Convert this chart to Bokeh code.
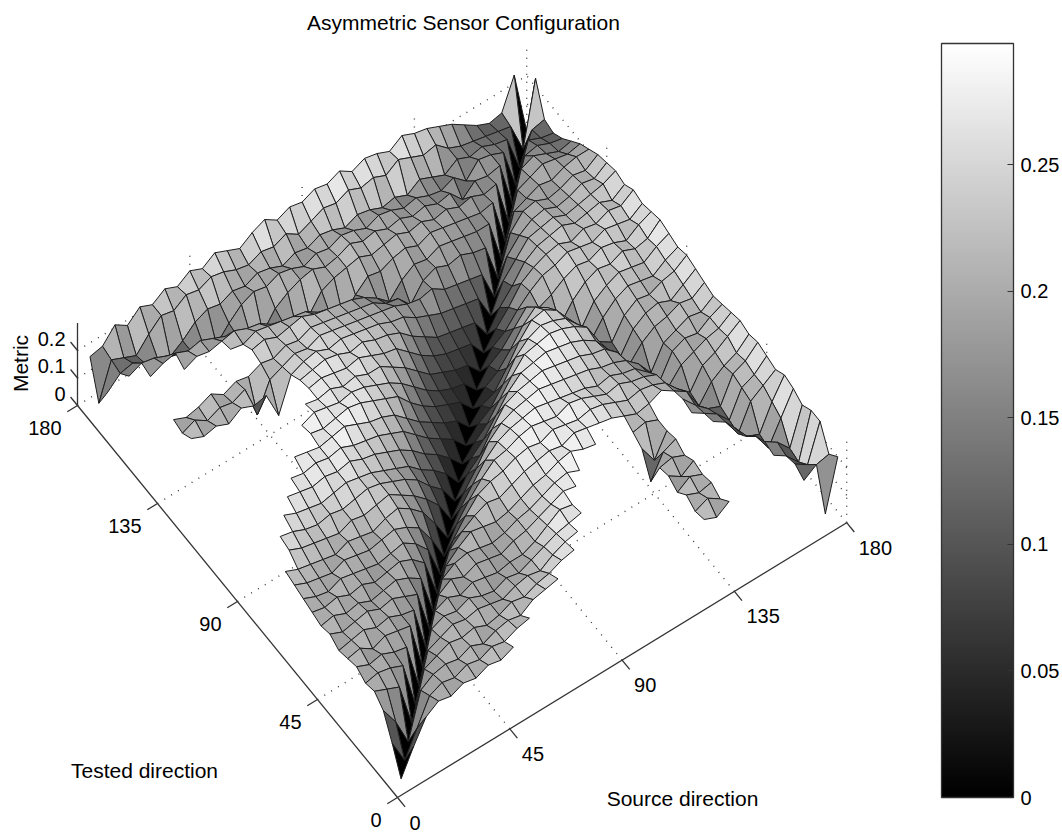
import math
from bokeh.plotting import figure
from bokeh.models import (Range1d, ColumnDataSource, LinearColorMapper, ColorBar,
                          FixedTicker, CustomJSTickFormatter)
from bokeh.transform import transform
from bokeh.core.properties import value
from bokeh.embed import file_html
from bokeh.resources import INLINE

N = None  # no surface at this grid point

# ---- grid (degrees) ----
TESTED = [5, 10, 15, 20, 25, 30, 35, 40, 45, 50, 55, 60, 65, 70, 75, 80, 85, 90,
          95, 100, 105, 110, 115, 120, 125, 130, 135, 140, 145, 150, 155, 160, 165, 170, 175, 180]
SOURCE = [5, 10, 15, 20, 25, 30, 35, 40, 45, 50, 55, 60, 65, 70, 75, 80, 85, 90,
          95, 100, 105, 110, 115, 120, 125, 130, 135, 140, 145, 150, 155, 160, 165, 170, 175, 180]

# ---- metric values (x 0.01), one row per tested direction, columns = source direction ----
T005 = [0, 9, 17, 20, 19, 21, 20, 22, 21, 23] + [N] * 24 + [2, 20]
T010 = [9, 0, 9, 18, 20, 19, 21, 20, 22, 21, 23, 24] + [N] * 13 + [21, 19, 22] + [N] * 5 + [13, 16, 17]
T015 = [17, 10, 0, 16, 19, 20, 19, 21, 19, 21, 22, 21, 24, 25, 26] + [N] * 10 + [20, 22, 19] + [N] * 5 + [15, 12, 25]
T020 = [20, 18, 16, 0, 17, 19, 21, 20, 21, 19, 20, 22, 21, 23, 24, 26, 27] + [N] * 8 + [22, 20, 21] + [N] * 4 + [17, 14, 9, 25]
T025 = [19, 20, 19, 17, 0, 17, 19, 21, 20, 21, 20, 19, 21, 22, 21, 24, 26, 27] + [N] * 7 + [19, 22, 20] + [N] * 4 + [18, 15, 10, 23]
T030 = [21, 19, 20, 18, 17, 0, 18, 20, 19, 21, 19, 18, 20, 19, 21, 23, 25, 26, 27] + [N] * 6 + [21, 18, 21] + [N] * 3 + [19, 16, 9, 17, 25]
T035 = [20, 21, 18, 20, 19, 18, 0, 18, 20, 18, 20, 19, 18, 19, 19, 21, 24, 27, 26] + [N] * 6 + [20, 21, 19] + [N] * 3 + [18, 12, 10, 19, 26]
T040 = [19, 20, 21, 19, 20, 18, 17, 0, 17, 20, 18, 20, 19, 18, 20, 21, 23, 25, 27, 26] + [N] * 5 + [11, 19, 21] + [N] * 2 + [19, 16, 9, 18, 21, 24]
T045 = [21, 19, 20, 21, 19, 20, 18, 16, 0, 16, 19, 20, 19, 18, 19, 21, 22, 24, 26, 27, 25] + [N] * 4 + [19, 12, 20] + [N] + [21, 18, 15, 10, 19, 21, 25]
T050 = [20, 21, 19, 20, 18, 19, 20, 18, 15, 0, 14, 18, 21, 20, 19, 20, 22, 24, 25, 27, 28, 26, 25] + [N] * 2 + [21, 22, 20] + [N] + [22, 17, 13, 11, 20, 22, 26]
T055 = [21, 20, 21, 19, 20, 18, 19, 20, 18, 14, 0, 13, 17, 20, 22, 21, 23, 25, 26, 27, 26, 28, 27, 26, 25, 23, 21, 22, 24, 21, 18, 10, 16, 19, 21, 25]
T060 = [22, 20, 19, 21, 20, 19, 18, 19, 20, 17, 12, 0, 10, 16, 21, 23, 24, 26, 27, 26, 28, 27, 26, 27, 26, 24, 22, 23, 22, 20, 15, 11, 18, 20, 23, 26]
T065 = [23, 21, 20, 19, 21, 20, 19, 20, 21, 19, 16, 9, 0, 9, 15, 20, 24, 25, 27, 28, 27, 26, 28, 27, 25, 23, 24, 22, 21, 19, 12, 17, 19, 21, 22, 25]
T070 = [24, 22, 21, 20, 19, 21, 20, 19, 21, 22, 19, 15, 8, 0, 8, 14, 20, 24, 26, 27, 28, 27, 26, 25, 24, 22, 23, 21, 20, 16, 10, 18, 20, 19, 22, 24]
T075 = [N, 25, 23, 22, 21, 20, 22, 21, 22, 23, 20, 17, 13, 8, 0, 7, 13, 20, 24, 26, 27, 28, 27, 26, 25, 24, 22, 21, 19, 15, 9, 17, 19, 21, 20, 23]
T080 = [N, 26, 25, 23, 22, 23, 22, 23, 24, 23, 21, 19, 16, 11, 7, 0, 7, 11, 18, 24, 26, 27, 28, 27, 26, 25, 23, 22, 18, 11, 16, 19, 20, 22, 21, 24]
T085 = [N, N, 27, 25, 24, 23, 24, 25, 24, 23, 21, 19, 17, 13, 10, 6, 0, 6, 10, 16, 22, 26, 27, 28, 27, 26, 24, 21, 15, 10, 17, 20, 21, 19, 22, 25]
T090 = [N, N, N, 27, 26, 25, 26, 25, 26, 24, 23, 21, 19, 16, 12, 9, 5, 0, 5, 9, 15, 21, 26, 27, 28, 27, 25, 22, 14, 11, 18, 21, 20, 22, 23, 26]
T095 = [N, N, N, N, 27, 26, 27, 26, 27, 25, 24, 23, 21, 19, 15, 11, 8, 5, 0, 5, 8, 14, 21, 25, 27, 26, 24, 19, 10, 16, 20, 22, 21, 20, 23, 25]
T100 = [N] * 5 + [28, 27, 26, 27, 28, 26, 24, 23, 21, 17, 13, 10, 7, 5, 0, 5, 7, 13, 20, 25, 26, 23, 17, 11, 18, 21, 23, 22, 21, 24, 26]
T105 = [N] * 7 + [27, 26, 27, 28, 27, 25, 23, 21, 16, 12, 9, 7, 5, 0, 5, 8, 13, 19, 23, 20, 11, 17, 21, 23, 22, 24, 22, 23, 27]
T110 = [N] * 7 + [26, 28, 27, 26, 27, 26, 24, 22, 19, 15, 11, 8, 6, 5, 0, 6, 9, 14, 19, 16, 18, 21, 23, 22, 24, 23, 21, 24, 26]
T115 = [N] * 8 + [27, 26, 27, 25, 26, 24, 24, 21, 18, 14, 10, 8, 6, 5, 0, 6, 9, 14, 18, 21, 22, 24, 23, 22, 24, 23, 22, 25]
T120 = [N] * 9 + [26, 27, 26, 25, 26, 24, 22, 21, 17, 13, 10, 8, 7, 6, 0, 6, 11, 17, 20, 22, 23, 21, 23, 22, 24, 23, 26]
T125 = [N] * 9 + [25, 26, 27, 26, 24, 25, 23, 22, 20, 16, 13, 10, 9, 8, 7, 0, 7, 12, 18, 21, 22, 23, 21, 22, 23, 21, 24]
T130 = [N, 22, 20, 21, 19, 22, 20, 21, 11, 23, 25, 26, 24, 25, 24, 23, 22, 20, 19, 16, 14, 12, 11, 10, 9, 0, 10, 15, 20, 21, 22, 20, 21, 22, 23, 25]
T135 = [N, 20, 22, 19, 21, 20, 22, 10, 20, 22, 24, 23, 25, 24, 23, 22, 21, 20, 19, 17, 16, 17, 14, 13, 12, 11, 0, 12, 17, 20, 21, 19, 20, 22, 21, 24]
T140 = [N, 21, 19, 20, 22, 19, 21, 20, 22, 21, 23, 22, 24, 23, 22, 21, 20, 19, 16, 15, 10, 16, 18, 16, 17, 15, 14, 0, 14, 19, 20, 18, 19, 21, 20, 23]
T145 = [N] * 8 + [23, 24, 22, 23, 24, 22, 21, 20, 19, 17, 14, 10, 15, 18, 17, 19, 18, 17, 16, 16, 0, 15, 17, 19, 18, 20, 21, 21]
T150 = [N] * 7 + [22, 21, 23, 22, 21, 20, 19, 16, 12, 9, 14, 18, 17, 19, 20, 18, 20, 19, 18, 17, 16, 17, 0, 16, 18, 20, 19, 18, 19]
T155 = [N] * 4 + [19, 21, 20, 21, 22, 20, 19, 16, 13, 9, 11, 17, 19, 20, 21, 19, 20, 21, 19, 20, 18, 19, 17, 18, 16, 17, 0, 17, 19, 17, 15, 16]
T160 = [N, N, 18, 20, 21, 19, 20, 18, 16, 13, 11, 9, 15, 18, 20, 21, 19, 20, 22, 20, 21, 19, 20, 18, 19, 17, 18, 13, 17, 16, 17, 0, 15, 16, 14, 13]
T165 = [N, 17, 19, 18, 16, 14, 12, 11, 9, 14, 18, 20, 19, 21, 20, 18, 20, 19, 21, 20, 18, 20, 19, 17, 18, 16, 15, 17, 13, 18, 17, 15, 0, 14, 12, 11]
T170 = [10, 14, 15, 12, 11, 9, 12, 16, 18, 17, 19, 18, 20, 19, 17, 19, 18, 20, 19, 17, 19, 18, 16, 17, 15, 18, 16, 14, 17, 15, 16, 14, 13, 0, 11, 12]
T175 = [2, 15, 13, 11, 16, 20, 19, 22, 21, 23, 22, 20, 19, 21, 20, 22, 19, 21, 23, 22, 24, 22, 23, 21, 24, 22, 20, 21, 17, 15, 14, 13, 12, 11, 0, 23]
T180 = [15, 16, 21, 18, 22, 20, 23, 21, 24, 22, 25, 23, 21, 24, 26, 23, 25, 24, 26, 25, 27, 24, 26, 25, 23, 26, 24, 23, 21, 19, 16, 13, 11, 12, 23, 0]

METRIC = [T005, T010, T015, T020, T025, T030, T035, T040, T045, T050, T055, T060,
          T065, T070, T075, T080, T085, T090, T095, T100, T105, T110, T115, T120,
          T125, T130, T135, T140, T145, T150, T155, T160, T165, T170, T175, T180]
METRIC_UNIT = 0.01

# ---- axes ----
TESTED_TICKS = [0, 45, 90, 135, 180]
SOURCE_TICKS = [0, 45, 90, 135, 180]
METRIC_TICKS = [0, 0.1, 0.2]
METRIC_TICK_LABELS = ["0", "0.1", "0.2"]
CBAR_TICKS = [0, 0.05, 0.1, 0.15, 0.2, 0.25]
ZLIM = (0.0, 0.3)
CLIM = (0.0, 0.298)
AXLIM = (0, 180)

# ---- view (orthographic projection into page pixels) ----
ORIGIN = (397.0, 797.0)
T_VEC = (-80.0 / 45, -98.0 / 45)
S_VEC = (112.3 / 45, -68.7 / 45)
Z_PIX = -275.0


def proj(t, s, z):
    return (ORIGIN[0] + t * T_VEC[0] + s * S_VEC[0],
            ORIGIN[1] + t * T_VEC[1] + s * S_VEC[1] + z * Z_PIX)


FONT = value("Liberation Sans")
W, H = 1062, 834
p = figure(width=W, height=H, x_range=Range1d(0, W), y_range=Range1d(H, 0),
           output_backend="svg", toolbar_location=None,
           x_axis_location=None, y_axis_location=None, min_border=0,
           outline_line_color=None, background_fill_color="white")
p.grid.visible = False

gray_pal = ["#%02x%02x%02x" % (k, k, k) for k in range(256)]
mapper = LinearColorMapper(palette=gray_pal, low=CLIM[0], high=CLIM[1])

# ---- dotted grid on floor and back walls ----
gx, gy = [], []


def add_line(a, b):
    gx.append([a[0], b[0]])
    gy.append([a[1], b[1]])


for t in TESTED_TICKS[1:-1]:
    add_line(proj(t, AXLIM[0], 0), proj(t, AXLIM[1], 0))
for s in SOURCE_TICKS[1:-1]:
    add_line(proj(AXLIM[0], s, 0), proj(AXLIM[1], s, 0))
for z in METRIC_TICKS:
    add_line(proj(AXLIM[1], AXLIM[0], z), proj(AXLIM[1], AXLIM[1], z))
    add_line(proj(AXLIM[0], AXLIM[1], z), proj(AXLIM[1], AXLIM[1], z))
for s in SOURCE_TICKS[1:]:
    add_line(proj(AXLIM[1], s, ZLIM[0]), proj(AXLIM[1], s, ZLIM[1]))
for t in TESTED_TICKS[:-1]:
    add_line(proj(t, AXLIM[1], ZLIM[0]), proj(t, AXLIM[1], ZLIM[1]))
p.multi_line(gx, gy, line_color="#3c3c3c", line_width=1.4, line_dash="1 7")

# ---- surface faces (painter's order: far first); face colour from its far corner ----
faces = []
for i in range(len(TESTED) - 1):
    for j in range(len(SOURCE) - 1):
        corners = [(i, j), (i + 1, j), (i + 1, j + 1), (i, j + 1)]
        if any(METRIC[a][b] is None for a, b in corners):
            continue
        pts = [proj(TESTED[a], SOURCE[b], METRIC[a][b] * METRIC_UNIT) for a, b in corners]
        tc = (TESTED[i] + TESTED[i + 1]) / 2
        sc = (SOURCE[j] + SOURCE[j + 1]) / 2
        depth = -(T_VEC[1] * tc + S_VEC[1] * sc)
        faces.append((depth, [q[0] for q in pts], [q[1] for q in pts],
                      METRIC[i + 1][j + 1] * METRIC_UNIT))
faces.sort(key=lambda f: -f[0])
src = ColumnDataSource(dict(xs=[f[1] for f in faces], ys=[f[2] for f in faces],
                            v=[f[3] for f in faces]))
p.patches("xs", "ys", source=src, fill_color=transform("v", mapper),
          line_color="#1e1e1e", line_width=1.0, line_join="miter")

# ---- axis lines and ticks ----
AX_COLOR = "#333333"
t0, t1 = proj(AXLIM[0], 0, 0), proj(AXLIM[1], 0, 0)
s1 = proj(0, AXLIM[1], 0)
z0, z1 = proj(AXLIM[1], 0, ZLIM[0]), proj(AXLIM[1], 0, ZLIM[1])
p.segment([t0[0], t0[0], z0[0]], [t0[1], t0[1], z0[1]],
          [t1[0], s1[0], z1[0]], [t1[1], s1[1], z1[1]],
          line_color=AX_COLOR, line_width=1.3)


def unit(v):
    n = math.hypot(v[0], v[1])
    return (v[0] / n, v[1] / n)


us, ut = unit(S_VEC), unit(T_VEC)
tx0, ty0, tx1, ty1 = [], [], [], []
for t in TESTED_TICKS:
    a = proj(t, 0, 0)
    tx0.append(a[0]); ty0.append(a[1])
    tx1.append(a[0] - 12 * us[0]); ty1.append(a[1] - 12 * us[1])
for s in SOURCE_TICKS:
    a = proj(0, s, 0)
    tx0.append(a[0]); ty0.append(a[1])
    tx1.append(a[0] - 12 * ut[0]); ty1.append(a[1] - 12 * ut[1])
for z in METRIC_TICKS:
    a = proj(AXLIM[1], 0, z)
    tx0.append(a[0]); ty0.append(a[1])
    tx1.append(a[0] + 11 * ut[0]); ty1.append(a[1] + 11 * ut[1])
p.segment(tx0, ty0, tx1, ty1, line_color=AX_COLOR, line_width=1.3)

# tick labels
lab_t = [proj(t, 0, 0) for t in TESTED_TICKS]
p.text([q[0] - 16 for q in lab_t], [q[1] + 22 for q in lab_t], text=[str(t) for t in TESTED_TICKS],
       text_align="right", text_baseline="middle", text_font=FONT, text_font_size="20px", text_color="black")
lab_s = [proj(0, s, 0) for s in SOURCE_TICKS]
p.text([q[0] + 12 for q in lab_s], [q[1] + 25 for q in lab_s], text=[str(s) for s in SOURCE_TICKS],
       text_align="left", text_baseline="middle", text_font=FONT, text_font_size="20px", text_color="black")
lab_z = [proj(AXLIM[1], 0, z) for z in METRIC_TICKS]
p.text([q[0] - 12 for q in lab_z], [q[1] - 12 for q in lab_z], text=METRIC_TICK_LABELS,
       text_align="right", text_baseline="middle", text_font=FONT, text_font_size="20px", text_color="black")

# axis titles and chart title
p.text([463], [22], text=["Asymmetric Sensor Configuration"], text_align="center", text_baseline="middle",
       text_font=FONT, text_font_size="21px", text_color="black")
p.text([144], [770], text=["Tested direction"], text_align="center", text_baseline="middle",
       text_font=FONT, text_font_size="21px", text_color="black")
p.text([682], [798], text=["Source direction"], text_align="center", text_baseline="middle",
       text_font=FONT, text_font_size="21px", text_color="black")
p.text([20], [363], text=["Metric"], angle=math.pi / 2, text_align="center", text_baseline="middle",
       text_font=FONT, text_font_size="21px", text_color="black")

# ---- colour bar ----
CB_LEFT, CB_BOTTOM, CB_W, CB_H = 941, 797, 72, 754
cb = ColorBar(color_mapper=mapper, location=(CB_LEFT, H - CB_BOTTOM),
              width=CB_W, height=CB_H, padding=0, margin=0,
              ticker=FixedTicker(ticks=CBAR_TICKS),
              formatter=CustomJSTickFormatter(code="return String(parseFloat(tick.toFixed(3)));"),
              major_label_text_font="Liberation Sans", major_label_text_font_size="20px",
              major_label_text_color="black", label_standoff=7,
              major_tick_in=6, major_tick_out=0, major_tick_line_color=AX_COLOR,
              minor_tick_line_color=None, bar_line_color=AX_COLOR, bar_line_width=1.3,
              border_line_color=None, background_fill_color=None)
p.add_layout(cb, "center")
# ticks on the left edge of the colour bar
cy = [CB_BOTTOM - (v - CLIM[0]) / (CLIM[1] - CLIM[0]) * CB_H for v in CBAR_TICKS[1:]]
p.segment([CB_LEFT] * len(cy), cy, [CB_LEFT + 6] * len(cy), cy, line_color=AX_COLOR, line_width=1.3)

open("out.html", "w").write(file_html(p, INLINE))
